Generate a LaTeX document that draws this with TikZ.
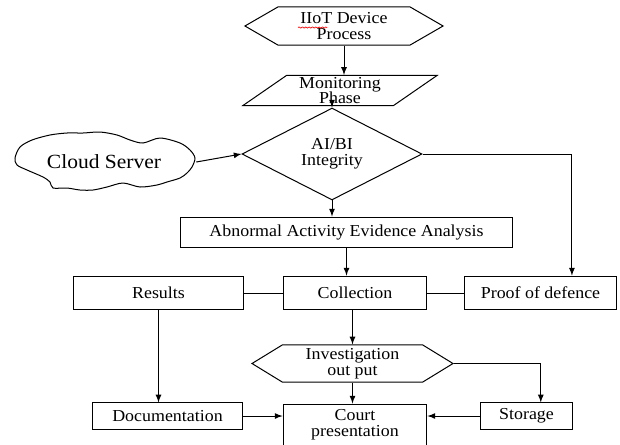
\documentclass[tikz,border=0pt]{standalone}
\usepackage{fontspec}
\setmainfont{Liberation Serif}[FakeStretch=1.07]
\usepackage{tikz}
\usetikzlibrary{
    calc,positioning,arrows,shapes.geometric,shapes.symbols,%
    decorations.pathmorphing
}
\tikzset{
    txt/.style={font=\fontsize{10}{9.3}\selectfont, align=center, inner sep=1pt},
    block/.style={rectangle, draw=black, txt, line width=0.6pt},
    hexa/.style={signal, signal to=east and west, draw=black, txt, line width=0.6pt},
    line/.style={->, >=latex, line width=0.6pt},
    link/.style={line width=0.6pt},
    cloudline/.style={line width=0.6pt, line join=round},
    spell/.style={red, line width=0.4pt, decorate,
        decoration={snake, amplitude=0.35pt, segment length=2pt}},
}

\begin{document}
\begin{tikzpicture}
        [x=0.021cm, y=-0.021cm]

        \useasboundingbox (0,0) rectangle (620,444);

        % top of the chart
        \node[hexa, signal pointer angle=60, minimum width=4.16cm, minimum height=0.80cm]
            (iiot) at (344,26) {IIoT Device\\Process};
        \node[trapezium, trapezium left angle=41, trapezium right angle=139,
            trapezium stretches=true, draw=black, txt, line width=0.6pt,
            minimum width=4.10cm, minimum height=0.61cm]
            (monitor) at (340,90.5) {Monitoring\\Phase};
        \node[diamond, draw=black, txt, inner sep=0pt, line width=0.6pt,
            minimum width=3.78cm, minimum height=1.30cm]
            (aibi) at (332,154) {AI/BI\\Integrity};
        \node[txt, font=\fontsize{12}{13}\selectfont, minimum width=3.86cm]
            (cloud) at (104,162) {Cloud Server};
        \draw[cloudline] plot[smooth cycle] coordinates {
            (15,158) (20,147) (32,140) (50,135) (67,133) (83,133) (100,132)
            (117,135) (130,140) (143,143) (160,138) (180,143) (190,150)
            (195,158) (192,167) (187,173) (180,178) (167,182) (157,185)
            (140,187) (123,183) (107,187) (93,190) (80,190) (67,188)
            (53,188) (50,182) (43,177) (27,170) (17,165)};
        \draw[spell] (298,27.5) -- (327,27.5);

        % middle row
        \node[block, minimum width=6.95cm, minimum height=0.65cm]
            (abnormal) at (346.5,232.5) {Abnormal Activity Evidence Analysis};
        \node[block, minimum width=3.55cm, minimum height=0.71cm]
            (results) at (158.5,293) {Results};
        \node[block, minimum width=3.02cm, minimum height=0.71cm]
            (collection) at (355,293) {Collection};
        \node[block, minimum width=3.21cm, minimum height=0.71cm]
            (proof) at (540.5,293) {Proof of defence};

        % bottom of the chart
        \node[hexa, signal pointer angle=63, minimum width=4.22cm, minimum height=0.78cm]
            (invest) at (352.5,363.5) {Investigation\\out put};
        \node[block, minimum width=3.17cm, minimum height=0.55cm]
            (doc) at (167.5,416) {Documentation};
        \node[block, minimum width=3.02cm, minimum height=0.88cm]
            (court) at (355,425) {Court\\presentation};
        \node[block, minimum width=1.95cm, minimum height=0.55cm]
            (storage) at (526.5,416) {Storage};

        \draw[line] (iiot.south) -- (iiot.south |- monitor.north);
        \draw[line] (aibi.north |- monitor.south) -- (aibi.north);
        \draw[line] (cloud.east) -- (aibi.west);
        \draw[line] (aibi.south) -- (aibi.south |- abnormal.north);
        \draw[line] (aibi.east) -| ([xshift=0.66cm]proof.north);
        \draw[line] (abnormal.south) -- (abnormal.south |- collection.north);
        \draw[link] (results) -- (collection);
        \draw[link] (collection) -- (proof);
        \draw[line] (results.south) -- (results.south |- doc.north);
        \draw[line] (invest.north |- collection.south) -- (invest.north);
        \draw[line] (invest.south) -- (invest.south |- court.north);
        \draw[line] (invest.east) -| ([xshift=0.3cm]storage.north);
        \draw[line] (doc.east) -- (doc.east -| court.west);
        \draw[line] (storage.west) -- (storage.west -| court.east);

    \end{tikzpicture}
\end{document}
